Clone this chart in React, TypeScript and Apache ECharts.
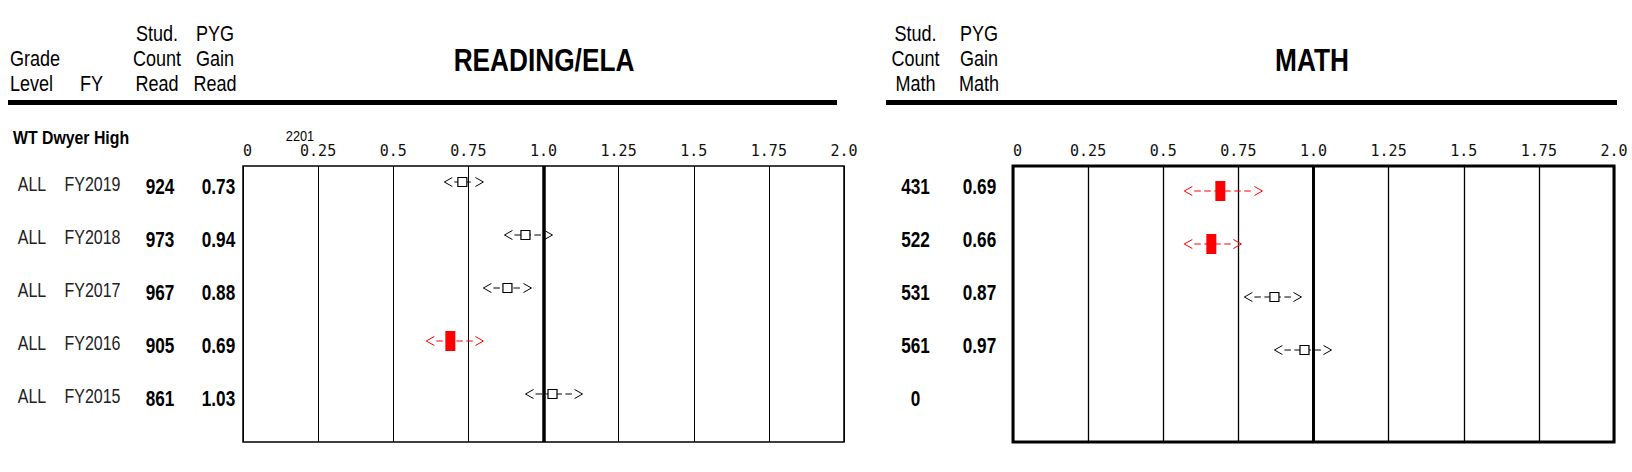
import React, { useEffect, useRef } from "react";
import * as echarts from "echarts";

// ---- data ----
const fiscalYears = ["FY2019", "FY2018", "FY2017", "FY2016", "FY2015"];
const gradeLevels = ["ALL", "ALL", "ALL", "ALL", "ALL"];
const readCounts = [924, 973, 967, 905, 861];
const readGain = [0.73, 0.94, 0.88, 0.69, 1.03];
const readLow = [0.67, 0.87, 0.8, 0.61, 0.94];
const readHigh = [0.8, 1.03, 0.96, 0.8, 1.13];
const readBelow = [false, false, false, true, false];
const mathCounts = [431, 522, 531, 561, 0];
const mathGain: (number | null)[] = [0.69, 0.66, 0.87, 0.97, null];
const mathLow: (number | null)[] = [0.57, 0.57, 0.77, 0.87, null];
const mathHigh: (number | null)[] = [0.83, 0.76, 0.96, 1.06, null];
const mathBelow = [true, true, false, false, false];
const tickLabels = ["0", "0.25", "0.5", "0.75", "1.0", "1.25", "1.5", "1.75", "2.0"];
const schoolName = "WT Dwyer High";
const schoolCode = "2201";

const SANS = "'Liberation Sans', Arial, sans-serif";
const MONO = "'DejaVu Sans Mono', monospace";

function txt(text: string, x: number, y: number, size: number, bold: boolean, scaleX: number, align = "center", fill = "#000") {
  return {
    type: "text",
    x,
    y,
    scaleX,
    style: {
      text,
      fill,
      font: `${bold ? "bold " : ""}${size}px ${SANS}`,
      align,
      verticalAlign: "middle",
    },
  };
}

function renderMarker(params: any, api: any) {
  const v = api.value(0);
  if (v == null || isNaN(v)) return null;
  const row = api.value(1);
  const c = api.coord([v, row]);
  const cx = c[0];
  const cy = c[1];
  const lo = api.coord([api.value(2), row])[0];
  const hi = api.coord([api.value(3), row])[0];
  const below = api.value(4) === 1;
  const color = below ? "#ff0000" : "#000000";
  const children: any[] = [
    {
      type: "line",
      shape: { x1: lo + 10, y1: cy, x2: hi - 10, y2: cy },
      style: { stroke: color, lineWidth: 1, lineDash: [6.5, 3.5] },
    },
    {
      type: "polyline",
      shape: { points: [[lo + 8, cy - 4.5], [lo, cy], [lo + 8, cy + 4.5]] },
      style: { stroke: color, lineWidth: 1, fill: "none" },
    },
    {
      type: "polyline",
      shape: { points: [[hi - 8, cy - 4.5], [hi, cy], [hi - 8, cy + 4.5]] },
      style: { stroke: color, lineWidth: 1, fill: "none" },
    },
    below
      ? { type: "rect", shape: { x: cx - 5, y: cy - 10, width: 10, height: 20 }, style: { fill: "#ff0000" } }
      : {
          type: "rect",
          shape: { x: cx - 4.5, y: cy - 4.5, width: 9, height: 9 },
          style: { fill: "#ffffff", stroke: "#000000", lineWidth: 1.2 },
        },
  ];
  return { type: "group", children };
}

function renderReadRow(params: any, api: any) {
  const i = params.dataIndex;
  const y = api.coord([0, i])[1];
  return {
    type: "group",
    children: [
      txt(gradeLevels[i], 32, y - 1.5, 20, false, 0.8, "center", "#222"),
      txt(fiscalYears[i], 92.5, y - 1.5, 20, false, 0.8, "center", "#222"),
      txt(String(readCounts[i]), 160, y, 22, true, 0.78),
      txt(readGain[i].toFixed(2), 218.5, y, 22, true, 0.78),
    ],
  };
}

function renderMathRow(params: any, api: any) {
  const i = params.dataIndex;
  const y = api.coord([0, i])[1];
  const g = mathGain[i];
  return {
    type: "group",
    children: [
      txt(String(mathCounts[i]), 915.5, y, 22, true, 0.78),
      txt(g == null ? "" : g.toFixed(2), 979.5, y, 22, true, 0.78),
    ],
  };
}

function xAxisFor(gridIndex: number, splitWidth: number) {
  return {
    gridIndex,
    type: "value",
    min: 0,
    max: 2,
    interval: 0.25,
    position: "top",
    axisLine: { show: false },
    axisTick: { show: false },
    splitLine: { show: true, lineStyle: { color: "#000", width: splitWidth } },
    axisLabel: {
      formatter: (v: number) => tickLabels[Math.round(v / 0.25)],
      fontFamily: MONO,
      fontSize: 15,
      color: "#111",
      margin: 8,
      alignMinLabel: "left",
    },
  };
}

function rowAxis(gridIndex: number) {
  return {
    gridIndex,
    type: "category",
    data: fiscalYears,
    inverse: true,
    show: false,
  };
}

export default function App() {
  const ref = useRef<HTMLDivElement>(null);
  useEffect(() => {
    if (!ref.current) return;
    const chart = echarts.init(ref.current, null, { renderer: "svg" });
    const rowMin0 = -16 / 53;
    const rowMin2 = -25 / 53;
    const span = 276 / 53;
    const readData = readGain.map((g, i) => [g, i, readLow[i], readHigh[i], readBelow[i] ? 1 : 0]);
    const mathData = mathGain
      .map((g, i) => (g == null ? null : [g, i, mathLow[i], mathHigh[i], mathBelow[i] ? 1 : 0]))
      .filter((d) => d !== null);
    const rowData = fiscalYears.map((_, i) => [0, i]);
    const oneLine = (w: number) => ({
      silent: true,
      symbol: ["none", "none"],
      label: { show: false },
      lineStyle: { color: "#000", width: w, type: "solid" },
      data: [{ xAxis: 1 }],
    });
    chart.setOption({
      animation: false,
      backgroundColor: "#ffffff",
      grid: [
        { left: 243, right: 788, top: 166, bottom: 30, show: true, borderColor: "#000", borderWidth: 1.5, backgroundColor: "transparent" },
        { left: 243, right: 788, top: 159.5, height: 265, show: false },
        { left: 1013, right: 18, top: 166, bottom: 30, show: true, borderColor: "#000", borderWidth: 3, backgroundColor: "transparent" },
        { left: 1013, right: 18, top: 159.5, height: 265, show: false },
      ],
      xAxis: [
        xAxisFor(0, 1),
        { gridIndex: 1, type: "value", min: 0, max: 1, show: false },
        xAxisFor(2, 1.3),
        { gridIndex: 3, type: "value", min: 0, max: 1, show: false },
      ],
      yAxis: [
        { gridIndex: 0, type: "value", inverse: true, min: rowMin0, max: rowMin0 + span, show: false },
        rowAxis(1),
        { gridIndex: 2, type: "value", inverse: true, min: rowMin2, max: rowMin2 + span, show: false },
        rowAxis(3),
      ],
      series: [
        {
          type: "custom",
          xAxisIndex: 0,
          yAxisIndex: 0,
          data: readData,
          encode: { x: 0, y: 1 },
          renderItem: renderMarker,
          markLine: oneLine(3.5),
          z: 5,
        },
        {
          type: "custom",
          xAxisIndex: 2,
          yAxisIndex: 2,
          data: mathData,
          encode: { x: 0, y: 1 },
          renderItem: renderMarker,
          markLine: oneLine(3),
          z: 5,
        },
        {
          type: "custom",
          xAxisIndex: 1,
          yAxisIndex: 1,
          data: rowData,
          encode: { x: 0, y: 1 },
          renderItem: renderReadRow,
          clip: false,
          silent: true,
        },
        {
          type: "custom",
          xAxisIndex: 3,
          yAxisIndex: 3,
          data: rowData,
          encode: { x: 0, y: 1 },
          renderItem: renderMathRow,
          clip: false,
          silent: true,
        },
      ],
      graphic: [
        txt("Grade", 10, 58, 22, false, 0.82, "left"),
        txt("Level", 10, 83, 22, false, 0.82, "left"),
        txt("FY", 91.5, 83, 22, false, 0.82),
        txt("Stud.", 157, 33, 22, false, 0.82),
        txt("Count", 157, 58, 22, false, 0.82),
        txt("Read", 157, 83, 22, false, 0.82),
        txt("PYG", 215, 33, 22, false, 0.82),
        txt("Gain", 215, 58, 22, false, 0.82),
        txt("Read", 215, 83, 22, false, 0.82),
        txt("READING/ELA", 544, 60, 32, true, 0.82),
        txt("Stud.", 915.5, 33, 22, false, 0.82),
        txt("Count", 915.5, 58, 22, false, 0.82),
        txt("Math", 915.5, 83, 22, false, 0.82),
        txt("PYG", 979, 33, 22, false, 0.82),
        txt("Gain", 979, 58, 22, false, 0.82),
        txt("Math", 979, 83, 22, false, 0.82),
        txt("MATH", 1312, 60, 32, true, 0.82),
        txt(schoolName, 13, 138.5, 18, true, 0.88, "left"),
        txt(schoolCode, 300, 136, 15, false, 0.85),
        { type: "line", shape: { x1: 8, y1: 102.5, x2: 837, y2: 102.5 }, style: { stroke: "#000", lineWidth: 5 } },
        { type: "line", shape: { x1: 886, y1: 102.5, x2: 1617, y2: 102.5 }, style: { stroke: "#000", lineWidth: 5 } },
      ],
    });
    return () => chart.dispose();
  }, []);
  return (
    <div
      ref={ref}
      style={{ position: "absolute", left: 0, top: 0, width: 1632, height: 472, background: "#fff" }}
    />
  );
}
